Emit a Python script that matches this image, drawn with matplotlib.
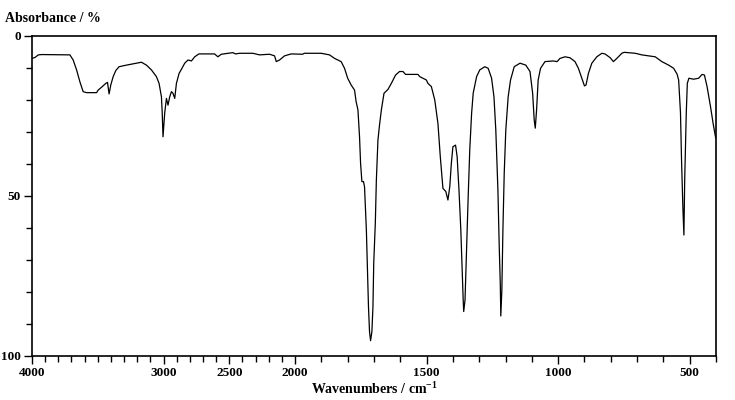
import numpy as np
import matplotlib
matplotlib.use('Agg')
import matplotlib.pyplot as plt
from matplotlib.ticker import FixedLocator

plt.rcParams['font.family'] = ['Liberation Serif', 'DejaVu Serif']
plt.rcParams['font.weight'] = 'bold'
plt.rcParams['mathtext.fontset'] = 'custom'
plt.rcParams['mathtext.bf'] = 'Liberation Serif:bold'
plt.rcParams['mathtext.default'] = 'bf'

# spectrum: wavenumber (cm-1) and absorbance (%)
wavenumber = [4000, 3977, 3952, 3926, 3712, 3687, 3661, 3636, 3611, 3585, 3509, 3497,
              3471, 3439, 3426, 3414, 3401, 3383, 3363, 3338, 3282, 3206, 3168, 3130,
              3092, 3054, 3034, 3016, 3010, 3004, 2991, 2978, 2966, 2953, 2940, 2928,
              2915, 2902, 2882, 2864, 2839, 2814, 2788, 2763, 2731, 2612, 2587, 2561,
              2473, 2452, 2422, 2321, 2270, 2194, 2156, 2143, 2118, 2080, 2030,
              1971, 1965, 1901, 1869, 1850, 1825, 1812, 1800, 1787, 1774, 1768, 1761,
              1755, 1751, 1746, 1740, 1736, 1729, 1725, 1721, 1717, 1713, 1708, 1704,
              1701, 1695, 1691, 1685, 1679, 1672, 1662, 1647, 1634, 1618, 1603, 1590,
              1580, 1533, 1526, 1514, 1501, 1495, 1482, 1469, 1457, 1448, 1438, 1427,
              1419, 1412, 1406, 1400, 1390, 1384, 1377, 1370, 1365, 1361, 1359, 1354,
              1348, 1342, 1336, 1329, 1323, 1310, 1298, 1279, 1266, 1253, 1244, 1237,
              1229, 1224, 1220, 1218, 1214, 1210, 1205, 1199, 1190, 1181, 1167, 1145,
              1123, 1107, 1097, 1091, 1087, 1082, 1076, 1067, 1050, 1019, 1004, 993,
              974, 955, 936, 923, 910, 900, 894, 885, 872, 853, 834, 822, 802, 790,
              777, 758, 749, 707, 682, 631, 606, 580, 561, 548, 542, 535, 531, 526,
              522, 519, 513, 509, 503, 485, 466, 453, 444, 434, 421, 411, 402, 400]
absorbance = [7.0, 6.7, 5.9, 5.8, 5.9, 7.5, 10.6, 14.3, 17.4, 17.7, 17.7, 16.9,
              16.0, 14.8, 14.5, 18.1, 15.3, 12.7, 10.8, 9.6, 9.1, 8.5, 8.2, 9.1,
              10.6, 12.7, 14.8, 19.0, 24.0, 31.5, 24.0, 19.5, 21.6, 19.0, 17.4, 17.9,
              19.5, 14.8, 11.7, 10.4, 8.5, 7.5, 7.8, 6.5, 5.6, 5.6, 6.5, 5.7,
              5.2, 5.6, 5.4, 5.4, 5.9, 5.7, 6.2, 8.0, 7.5, 6.2, 5.6,
              5.7, 5.4, 5.4, 5.9, 7.0, 8.0, 10.1, 13.2, 15.3, 16.9, 20.5, 23.1,
              31.5, 39.8, 45.5, 45.5, 47.1, 60.6, 73.1, 84.6, 92.4, 95.2, 92.4, 84.6,
              71.0, 58.5, 45.0, 32.5, 27.8, 23.1, 17.9, 16.7, 14.8, 12.2, 11.1, 11.1,
              12.0, 12.0, 12.7, 13.2, 13.75, 14.8, 15.8, 20.0, 27.3, 37.7, 47.6, 48.6,
              51.25, 47.1, 39.8, 34.6, 34.1, 37.7, 48.1, 60.6, 73.1, 82.5, 86.1, 82.5,
              65.8, 50.2, 35.6, 24.2, 17.9, 12.7, 10.6, 9.6, 10.1, 13.2, 19.0, 29.4,
              48.1, 65.8, 77.3, 87.5, 79.4, 60.6, 42.9, 29.4, 19.0, 13.75, 9.6, 8.5,
              9.1, 11.1, 17.9, 26.25, 28.8, 23.1, 13.75, 10.1, 8.0, 7.8, 8.0, 7.0,
              6.5, 6.8, 8.0, 10.1, 13.2, 15.6, 15.3, 11.7, 8.5, 6.5, 5.4, 5.6, 6.8, 8.0,
              7.0, 5.4, 5.1, 5.4, 5.9, 6.5, 8.0, 9.1, 10.1, 11.9, 13.75, 24.0, 38.75, 53.3,
              62.2, 45.0, 24.0, 14.8, 13.2, 13.5, 13.2, 12.0, 12.2, 15.8, 22.0, 27.3, 31.5, 32.0]

x_labels = [4000, 3000, 2500, 2000, 1500, 1000, 500]
y_labels = [0, 50, 100]


# wavenumber axis: 4000-2000 at half the scale of 2000-400
def fwd(w):
    w = np.asarray(w, dtype=float)
    return np.where(w >= 2000, 1600 + (w - 2000) / 2.0, w - 400)


def inv(u):
    u = np.asarray(u, dtype=float)
    return np.where(u >= 1600, 2000 + (u - 1600) * 2.0, u + 400)


fig = plt.figure(figsize=(7.35, 4.0), dpi=100)
ax = fig.add_axes([32 / 735, 1 - 356 / 400, 684 / 735, 320 / 400])
ax.plot(wavenumber, absorbance, color='black', lw=0.9)
ax.set_xscale('function', functions=(fwd, inv))
ax.set_xlim(4000, 400)
ax.set_ylim(100, 0)

ax.xaxis.set_major_locator(FixedLocator(x_labels))
ax.xaxis.set_minor_locator(FixedLocator(np.arange(400, 4000, 100)))
ax.yaxis.set_major_locator(FixedLocator(y_labels))
ax.yaxis.set_minor_locator(FixedLocator(np.arange(0, 101, 10)))
ax.set_xticklabels([str(v) for v in x_labels])
ax.set_yticklabels([str(v) for v in y_labels])
ax.tick_params(which='major', length=6, width=1, labelsize=9.5, pad=2)
ax.tick_params(which='minor', length=4, width=1)
for s in ax.spines.values():
    s.set_linewidth(1.2)

fig.text(374 / 735, 1 - 389 / 400, 'Wavenumbers / cm$^{-1}$', fontsize=10,
         fontweight='bold', ha='center', va='center')
fig.text(5 / 735, 1 - 18 / 400, 'Absorbance / %', fontsize=10, fontweight='bold',
         va='center', ha='left')

fig.savefig('out.png', dpi=100)
